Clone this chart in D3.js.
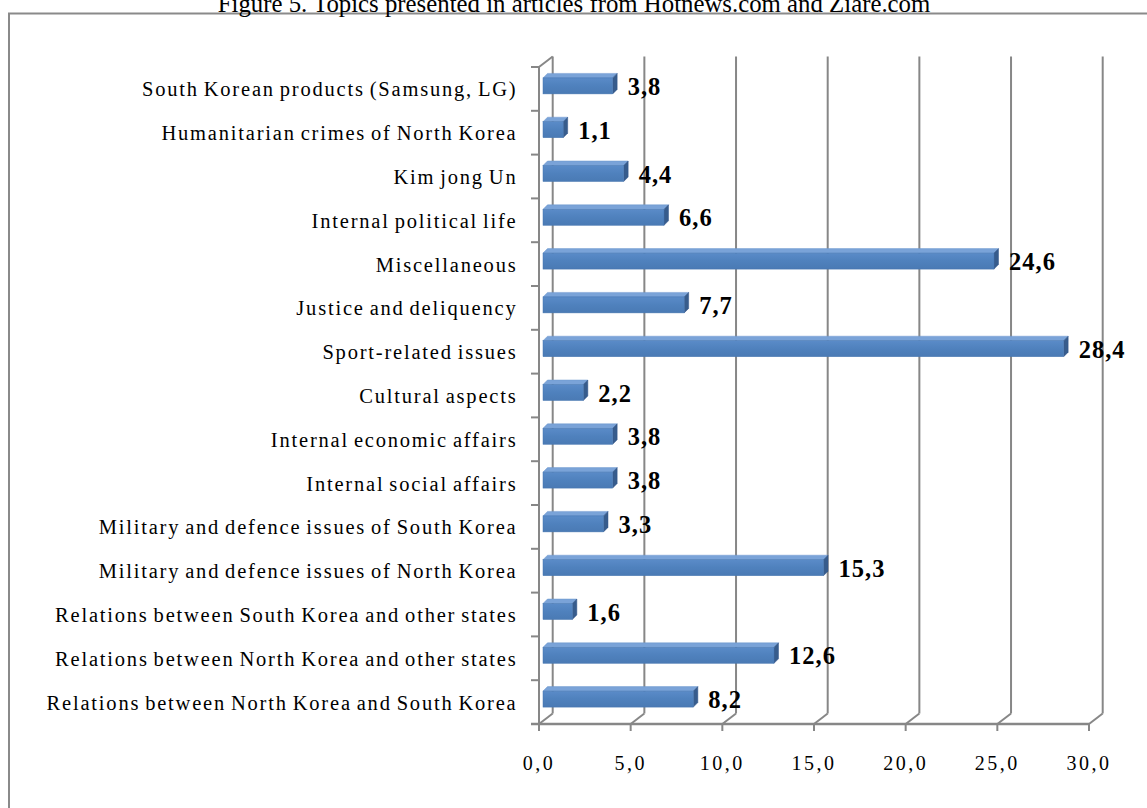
<!DOCTYPE html>
<html><head><meta charset="utf-8">
<script src="https://cdn.jsdelivr.net/npm/d3@7"></script>
<style>body{margin:0;background:#fff}svg{display:block}</style>
</head><body>
<script>
const title = "Figure 5. Topics presented in articles from Hotnews.com and Ziare.com";
const categories = [
  "Relations between North Korea and South Korea",
  "Relations between North Korea and other states",
  "Relations between South Korea and other states",
  "Military and defence issues of North Korea",
  "Military and defence issues of South Korea",
  "Internal social affairs",
  "Internal economic affairs",
  "Cultural aspects",
  "Sport-related issues",
  "Justice and deliquency",
  "Miscellaneous",
  "Internal political life",
  "Kim jong Un",
  "Humanitarian crimes of North Korea",
  "South Korean products (Samsung, LG)"
];
const values = [8.2, 12.6, 1.6, 15.3, 3.3, 3.8, 3.8, 2.2, 28.4, 7.7, 24.6, 6.6, 4.4, 1.1, 3.8];
const xTicks = [0, 5, 10, 15, 20, 25, 30];

const W = 1147, H = 808;
const svg = d3.select("body").append("svg").attr("width", W).attr("height", H);
const serif = "Liberation Serif, Times New Roman, serif";

const fmt = v => d3.format(".1f")(v).replace(".", ",");

const x = d3.scaleLinear().domain([0, 30]).range([539, 1089]);
const y = d3.scaleBand().domain(categories).range([724, 67]).paddingInner(0).paddingOuter(0);

// depth offsets
const backDX = 13.7, backDY = -10.5;
const barDX = 4, barDY = -3;
const depDX = 4.5, depDY = -4.5;
const barH = 16;

const gridColor = "#878787";

// outer frame
svg.append("rect").attr("x", 9).attr("y", 13.5).attr("width", W + 20).attr("height", H + 20)
  .attr("fill", "none").attr("stroke", "#8a8a8a").attr("stroke-width", 2);

// title
svg.append("text").attr("x", 574).attr("y", 11.5).attr("text-anchor", "middle")
  .attr("font-family", serif).attr("font-size", 24.8)
  .attr("fill", "#000").text(title);

const g = svg.append("g");
const yTop = y.range()[1], yBot = y.range()[0];

// back wall gridlines
g.selectAll("line.grid").data(xTicks).enter().append("line")
  .attr("x1", d => x(d) + backDX).attr("x2", d => x(d) + backDX)
  .attr("y1", yBot + backDY).attr("y2", yTop + backDY)
  .attr("stroke", gridColor).attr("stroke-width", 2);

// floor diagonals
g.selectAll("line.fdiag").data(xTicks).enter().append("line")
  .attr("x1", d => x(d)).attr("x2", d => x(d) + backDX)
  .attr("y1", yBot).attr("y2", yBot + backDY)
  .attr("stroke", gridColor).attr("stroke-width", 2);

// left wall top diagonal
g.append("line").attr("x1", x(0)).attr("y1", yTop).attr("x2", x(0) + backDX).attr("y2", yTop + backDY)
  .attr("stroke", gridColor).attr("stroke-width", 2);
// left axis front vertical
g.append("line").attr("x1", x(0)).attr("y1", yTop).attr("x2", x(0)).attr("y2", yBot + 6)
  .attr("stroke", gridColor).attr("stroke-width", 2);
// bottom axis
g.append("line").attr("x1", x(0) - 8).attr("y1", yBot).attr("x2", x(30)).attr("y2", yBot)
  .attr("stroke", gridColor).attr("stroke-width", 2.5);
// x ticks
g.selectAll("line.xt").data(xTicks).enter().append("line")
  .attr("x1", d => x(d)).attr("x2", d => x(d)).attr("y1", yBot).attr("y2", yBot + 7)
  .attr("stroke", gridColor).attr("stroke-width", 2);
// y ticks at category boundaries
const bounds = categories.map(c => y(c)).concat([yBot]);
g.selectAll("line.yt").data(bounds).enter().append("line")
  .attr("x1", x(0) - 8).attr("x2", x(0)).attr("y1", d => d).attr("y2", d => d)
  .attr("stroke", gridColor).attr("stroke-width", 2);

// x tick labels
g.selectAll("text.xl").data(xTicks).enter().append("text")
  .attr("x", d => x(d)).attr("y", 770).attr("text-anchor", "middle")
  .attr("font-family", serif).attr("font-size", 20)
  .attr("letter-spacing", 2.5).attr("fill", "#000").text(d => fmt(d));

// category labels
g.selectAll("text.cl").data(categories).enter().append("text")
  .attr("x", 517.5).attr("y", d => y(d) + y.bandwidth() / 2 + 7.5)
  .attr("text-anchor", "end")
  .attr("font-family", serif).attr("font-size", 20.5)
  .attr("letter-spacing", 1.8).attr("word-spacing", -2).attr("fill", "#000").text(d => d);

// gradients
const defs = svg.append("defs");
const gf = defs.append("linearGradient").attr("id", "gFront").attr("x1", 0).attr("y1", 0).attr("x2", 0).attr("y2", 1);
gf.append("stop").attr("offset", "0%").attr("stop-color", "#5a8bc8");
gf.append("stop").attr("offset", "50%").attr("stop-color", "#4f81bd");
gf.append("stop").attr("offset", "100%").attr("stop-color", "#4a7ab4");

// bars
const bars = g.selectAll("g.bar").data(categories.map((c, i) => ({ c, v: values[i] }))).enter().append("g");
bars.each(function (d) {
  const sel = d3.select(this);
  const cy = y(d.c) + y.bandwidth() / 2 + barDY;
  const x0 = x(0) + barDX, x1 = x(d.v) + barDX;
  const t = cy - barH / 2, b = cy + barH / 2;
  sel.append("path").attr("d", `M${x0},${t}L${x0 + depDX},${t + depDY}L${x1 + depDX},${t + depDY}L${x1},${t}Z`)
    .attr("fill", "#7aa3d8").attr("stroke", "#6f98cf").attr("stroke-width", 0.5);
  sel.append("path").attr("d", `M${x1},${t}L${x1 + depDX},${t + depDY}L${x1 + depDX},${b + depDY}L${x1},${b}Z`)
    .attr("fill", "#375c8c").attr("stroke", "#34578a").attr("stroke-width", 0.5);
  sel.append("rect").attr("x", x0).attr("y", t).attr("width", x1 - x0).attr("height", barH)
    .attr("fill", "url(#gFront)").attr("stroke", "#4676b0").attr("stroke-width", 0.5);
  sel.append("text").attr("x", x1 + 15).attr("y", cy + 9)
    .attr("font-family", serif).attr("font-size", 24.5)
    .attr("font-weight", "bold").attr("letter-spacing", 1).attr("fill", "#000").text(fmt(d.v));
});
</script>
</body></html>
